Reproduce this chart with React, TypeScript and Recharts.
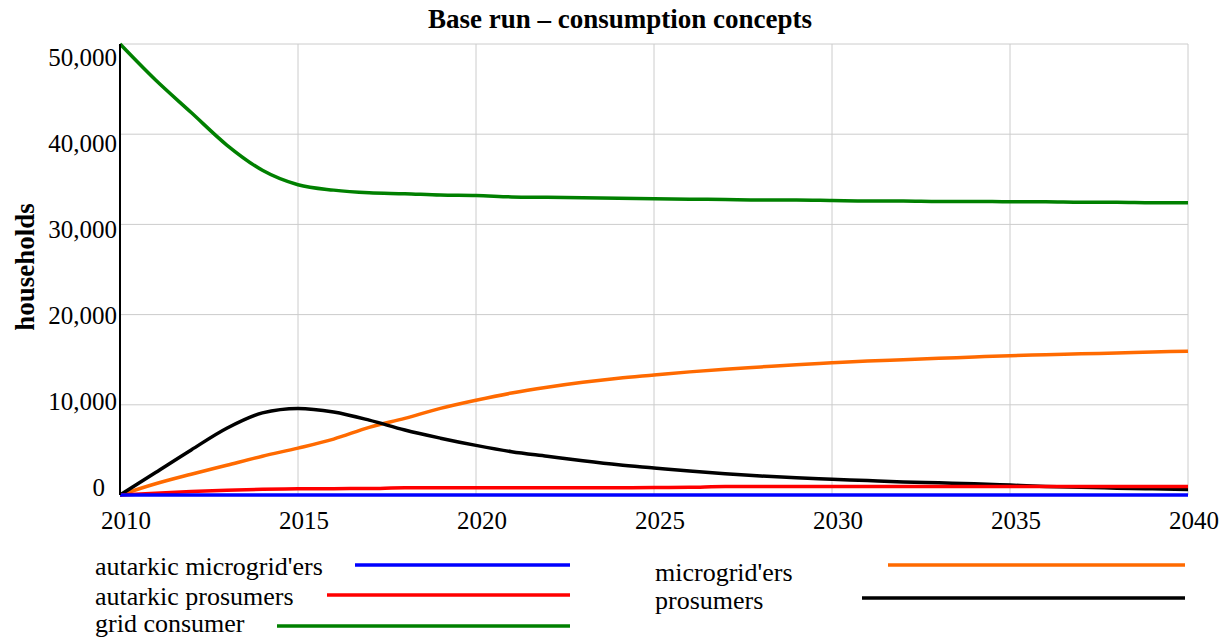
import React from 'react';
import { LineChart, Line, XAxis, YAxis, CartesianGrid } from 'recharts';

const years = [2010, 2011, 2012, 2013, 2014, 2015, 2016, 2017, 2018, 2019, 2020, 2021, 2022, 2023, 2024, 2025, 2026, 2027, 2028, 2029, 2030, 2031, 2032, 2033, 2034, 2035, 2036, 2037, 2038, 2039, 2040];
const gridConsumer = [50000, 46000, 42400, 38800, 36000, 34400, 33800, 33500, 33400, 33250, 33200, 33050, 33000, 32950, 32900, 32850, 32800, 32750, 32700, 32700, 32650, 32600, 32600, 32550, 32550, 32500, 32500, 32450, 32450, 32400, 32400];
const microgridErs = [0, 1250, 2300, 3300, 4300, 5200, 6200, 7500, 8500, 9600, 10500, 11300, 11950, 12500, 12950, 13300, 13650, 13950, 14200, 14450, 14650, 14850, 15000, 15150, 15300, 15450, 15550, 15650, 15750, 15850, 15950];
const prosumers = [0, 2500, 5000, 7400, 9100, 9600, 9200, 8300, 7200, 6300, 5500, 4800, 4300, 3800, 3350, 3000, 2650, 2350, 2100, 1900, 1750, 1600, 1450, 1350, 1250, 1100, 950, 850, 760, 680, 620];
const autarkicProsumers = [0, 200, 380, 530, 640, 680, 700, 720, 800, 800, 800, 800, 800, 800, 800, 820, 850, 950, 950, 950, 950, 950, 950, 950, 950, 950, 950, 950, 950, 950, 950];
const autarkicMicrogridErs = [0, 0, 0, 0, 0, 0, 0, 0, 0, 0, 0, 0, 0, 0, 0, 0, 0, 0, 0, 0, 0, 0, 0, 0, 0, 0, 0, 0, 0, 0, 0];

const xTicks = [2010, 2015, 2020, 2025, 2030, 2035, 2040];
const yTicks = [0, 10000, 20000, 30000, 40000, 50000];

const seriesNames = ["autarkic microgrid'ers", 'autarkic prosumers', 'grid consumer', "microgrid'ers", 'prosumers'];
const seriesKeys = ['autarkicMicrogridErs', 'autarkicProsumers', 'gridConsumer', 'microgridErs', 'prosumers'];
const seriesColors = ['#0000ff', '#ff0000', '#008000', '#ff6a00', '#000000'];

const data = years.map((y, i) => ({
  year: y,
  gridConsumer: gridConsumer[i],
  microgridErs: microgridErs[i],
  prosumers: prosumers[i],
  autarkicProsumers: autarkicProsumers[i],
  autarkicMicrogridErs: autarkicMicrogridErs[i],
}));

const FONT = '"Liberation Serif", "Times New Roman", serif';

const YTick = (props: any) => {
  const { y, payload } = props;
  const v = payload.value as number;
  const offset = 13 - ((50000 - v) / 10000) * 4.2;
  if (v === 0) {
    return (
      <text x={105} y={y + offset} dy="0.35em" textAnchor="end" fontFamily={FONT} fontSize={25} fill="#000">0</text>
    );
  }
  return (
    <text x={117} y={y + offset} dy="0.35em" textAnchor="end" fontFamily={FONT} fontSize={25} fill="#000">
      {v.toLocaleString('en-US')}
    </text>
  );
};

const XTick = (props: any) => {
  const { x, y, payload } = props;
  return (
    <text x={x + 6} y={y + 17} dy="0.35em" textAnchor="middle" fontFamily={FONT} fontSize={25} fill="#000">
      {payload.value}
    </text>
  );
};

// legend layout: [textX, textY, lineX1, lineX2, lineY]
const legendLayout = [
  [95, 566, 355, 570, 565],
  [95, 596, 327, 570, 595],
  [95, 623, 277, 570, 626],
  [655, 572, 888, 1185, 565],
  [655, 600, 862, 1185, 598],
];

const drawOrder = ['gridConsumer', 'microgridErs', 'prosumers', 'autarkicProsumers', 'autarkicMicrogridErs'];

export default function App() {
  return (
    <div style={{ position: 'absolute', left: 0, top: 0, width: 1231, height: 639, background: '#fff' }}>
      <LineChart width={1231} height={639} data={data} margin={{ top: 44, right: 43, bottom: 104, left: 0 }}>
        <CartesianGrid xAxisId="b" yAxisId="l" stroke="#cccccc" strokeWidth={1} vertical horizontal />
        <XAxis
          xAxisId="b"
          dataKey="year"
          type="number"
          domain={[2010, 2040]}
          ticks={xTicks}
          height={40}
          tickLine={false}
          axisLine={false}
          tick={<XTick />}
        />
        <XAxis
          xAxisId="t"
          dataKey="year"
          type="number"
          orientation="top"
          domain={[2010, 2040]}
          ticks={xTicks}
          height={0}
          tick={false}
          tickLine={false}
          axisLine={{ stroke: '#000', strokeWidth: 3 }}
        />
        <YAxis
          yAxisId="l"
          type="number"
          domain={[0, 50000]}
          ticks={yTicks}
          width={120}
          tickLine={false}
          axisLine={{ stroke: '#000', strokeWidth: 2 }}
          tick={<YTick />}
        />
        <YAxis
          yAxisId="r"
          type="number"
          orientation="right"
          domain={[0, 50000]}
          ticks={yTicks}
          width={0}
          tick={false}
          tickLine={false}
          axisLine={{ stroke: '#000', strokeWidth: 2 }}
        />
        {drawOrder.map((k) => {
          const idx = seriesKeys.indexOf(k);
          return (
            <Line
              key={k}
              xAxisId="b"
              yAxisId="l"
              dataKey={k}
              name={seriesNames[idx]}
              stroke={seriesColors[idx]}
              strokeWidth={3.5}
              dot={false}
              type="monotone"
              isAnimationActive={false}
            />
          );
        })}
      </LineChart>
      <svg width={1231} height={639} style={{ position: 'absolute', left: 0, top: 0, pointerEvents: 'none' }}>
        <text x={620} y={19} dy="0.35em" textAnchor="middle" fontFamily={FONT} fontSize={27} fontWeight="bold" fill="#000">
          Base run – consumption concepts
        </text>
        <text
          x={25}
          y={267}
          dy="0.35em"
          textAnchor="middle"
          fontFamily={FONT}
          fontSize={27}
          fontWeight="bold"
          fill="#000"
          transform="rotate(-90 25 267)"
        >
          households
        </text>
        {seriesNames.map((n, i) => {
          const [tx, ty, x1, x2, ly] = legendLayout[i];
          return (
            <g key={n}>
              <text x={tx} y={ty} dy="0.35em" fontFamily={FONT} fontSize={26} fill="#000">{n}</text>
              <line x1={x1} x2={x2} y1={ly} y2={ly} stroke={seriesColors[i]} strokeWidth={3.5} />
            </g>
          );
        })}
      </svg>
    </div>
  );
}
